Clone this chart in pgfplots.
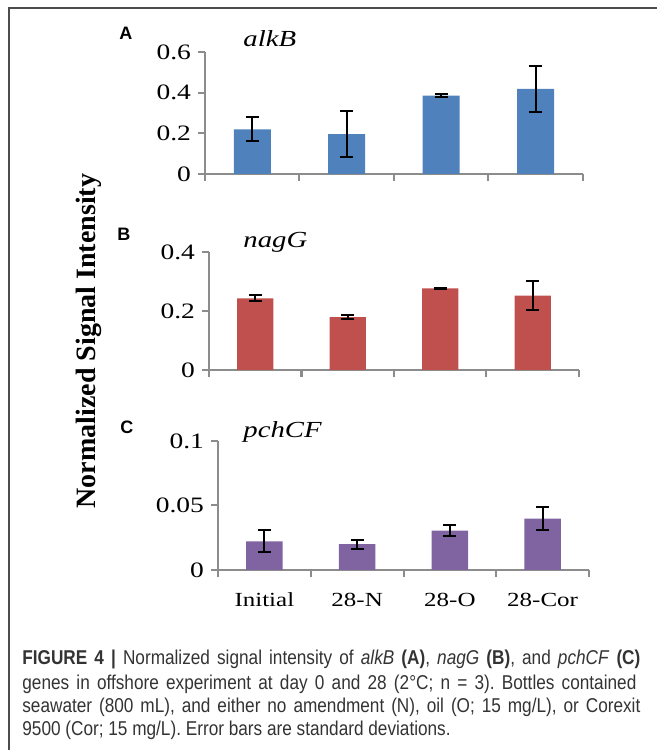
\documentclass[border=0pt]{standalone}
\usepackage{fontspec}
\setmainfont{Liberation Serif}
\newfontfamily\tickfont[FakeStretch=1.25]{Liberation Serif}
\newfontfamily\capfont[FakeStretch=0.86]{Liberation Sans}
\newfontfamily\letterfont{Liberation Sans}
\usepackage{pgfplots}
\pgfplotsset{compat=1.18}
\frenchspacing
\definecolor{blueA}{HTML}{4F81BD}
\definecolor{redB}{HTML}{C0504D}
\definecolor{purpC}{HTML}{8064A2}
\definecolor{axgray}{HTML}{8C8C8C}
\definecolor{captxt}{HTML}{333333}
\pgfplotsset{
  panel/.style={
    scale only axis,
    xmin=-0.5, xmax=3.5, ymin=0,
    axis lines*=left,
    axis line style={axgray, line width=1pt},
    xtick={-0.5,0.5,1.5,2.5,3.5},
    xticklabels={},
    tick align=outside,
    major tick length=3.5pt,
    tick style={axgray, line width=1pt},
    yticklabel style={font=\tickfont\fontsize{11}{13}\selectfont, black},
    xticklabel style={font=\tickfont\fontsize{10}{12}\selectfont, black},
    anchor=south west,
  },
  barplot/.style={
    ybar, bar width=#1, bar shift=0pt, draw=none,
    error bars/y dir=both, error bars/y explicit,
    error bars/error bar style={black, line width=1pt},
    error bars/error mark options={black, rotate=90, mark size=3.2pt, line width=1pt},
  },
}
\begin{document}
\begin{tikzpicture}[x=0.5pt,y=0.5pt]
\path[use as bounding box] (0,0) rectangle (657,750);
\draw[line width=1pt, black!70] (8.5,0) -- (8.5,741.5) -- (657,741.5);

% Panel A
\begin{axis}[panel, at={(102.5pt,288pt)}, width=189pt, height=61pt,
  ymax=0.6, ytick={0,0.2,0.4,0.6}, yticklabels={0,0.2,0.4,0.6}]
\addplot[barplot=18.5pt, fill=blueA] table[x=x,y=y,y error=e] {
x y e
0 0.220 0.060
1 0.196 0.112
2 0.386 0.007
3 0.418 0.114
};
\end{axis}

% Panel B
\begin{axis}[panel, at={(104.5pt,190pt)}, width=185pt, height=59pt,
  ymax=0.4, ytick={0,0.2,0.4}, yticklabels={0,0.2,0.4}]
\addplot[barplot=18.2pt, fill=redB] table[x=x,y=y,y error=e] {
x y e
0 0.243 0.010
1 0.179 0.007
2 0.277 0.002
3 0.252 0.049
};
\end{axis}

% Panel C
\begin{axis}[panel, at={(109pt,90pt)}, width=185.5pt, height=64.5pt,
  ymax=0.1, ytick={0,0.05,0.1}, yticklabels={0,0.05,0.1},
  extra x ticks={0,1,2,3},
  extra x tick labels={Initial,28-N,28-O,28-Cor},
  extra x tick style={major tick length=0pt, tick style={draw=none},
    tick label style={yshift=-8pt}}]
\addplot[barplot=18.3pt, fill=purpC] table[x=x,y=y,y error=e] {
x y e
0 0.0222 0.0085
1 0.0200 0.0036
2 0.0305 0.0045
3 0.0398 0.0090
};
\end{axis}

% panel titles
\node[anchor=base west, inner sep=0pt, font=\tickfont\itshape\fontsize{11.5}{13}\selectfont] at (243,703) {alkB};
\node[anchor=base west, inner sep=0pt, font=\tickfont\itshape\fontsize{11.5}{13}\selectfont] at (243,502) {nagG};
\node[anchor=base west, inner sep=0pt, font=\tickfont\itshape\fontsize{11.5}{13}\selectfont] at (243,312) {pchCF};
% panel letters
\node[anchor=base west, inner sep=0pt, font=\letterfont\bfseries\fontsize{9}{10}\selectfont] at (119,710.5) {A};
\node[anchor=base west, inner sep=0pt, font=\letterfont\bfseries\fontsize{9}{10}\selectfont] at (117,509.5) {B};
\node[anchor=base west, inner sep=0pt, font=\letterfont\bfseries\fontsize{9}{10}\selectfont] at (120,316) {C};
% y label
\node[rotate=90, inner sep=0pt, font=\bfseries\fontsize{14}{16}\selectfont] at (89,409) {Normalized Signal Intensity};

% caption
\begin{scope}[every node/.style={anchor=base west, inner sep=0pt, text=captxt, font=\capfont\fontsize{10}{12}\selectfont}]
\node at (22,85) {\makebox[309pt][s]{\textbf{FIGURE 4 |} Normalized signal intensity of \textit{alkB} \textbf{(A)}, \textit{nagG} \textbf{(B)}, and \textit{pchCF} \textbf{(C)}}};
\node at (22,61) {\makebox[307pt][s]{genes in offshore experiment at day 0 and 28 (2°C; n = 3). Bottles contained}};
\node at (22,38) {\makebox[309pt][s]{seawater (800 mL), and either no amendment (N), oil (O; 15 mg/L), or Corexit}};
\node at (22,15) {9500 (Cor; 15 mg/L). Error bars are standard deviations.};
\end{scope}
\end{tikzpicture}
\end{document}
